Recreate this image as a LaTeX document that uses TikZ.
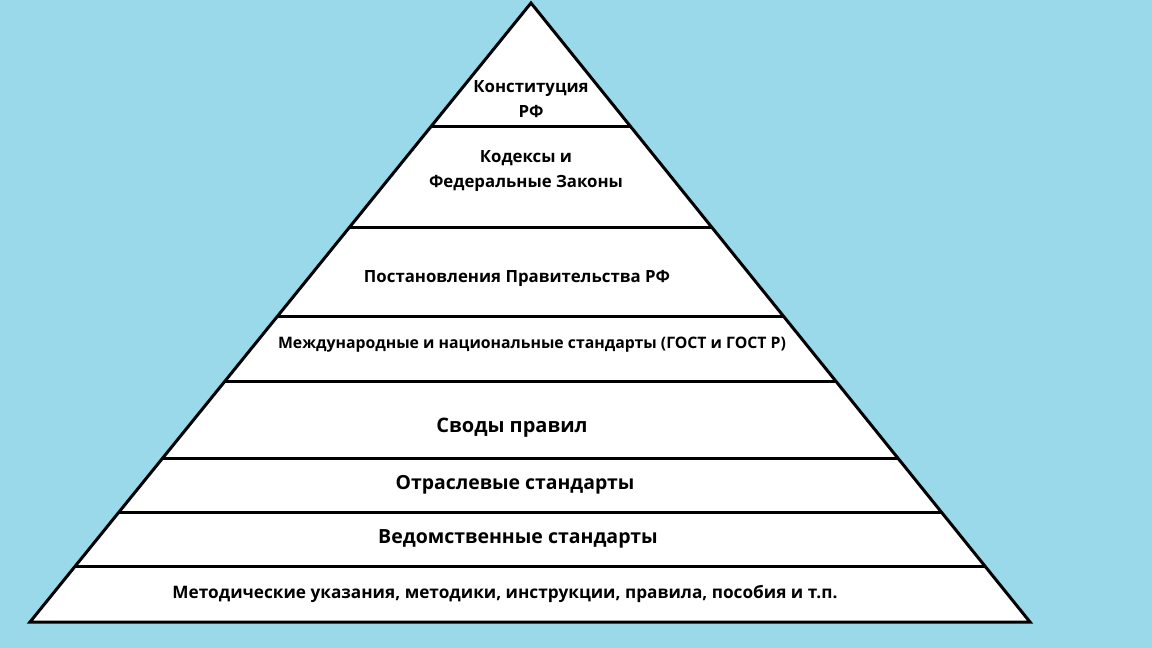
\documentclass[tikz,border=0pt]{standalone}
\usepackage{fontspec}
\setmainfont{Open Sans}
\begin{document}
\begin{tikzpicture}[x=0.5pt,y=-0.5pt,
  lvl/.style={font=\bfseries\fontsize{8.4}{12.5}\selectfont,align=center,text=black},
  edge/.style={line width=1.5pt,black}]
\fill[fill={rgb,255:red,153;green,217;blue,234}] (0,0) rectangle (1152,648);
\useasboundingbox (0,0) rectangle (1152,648);
\coordinate (A) at (531,3);
\coordinate (BL) at (30,622);
\coordinate (BR) at (1030,622);
\fill[white] (A) -- (BL) -- (BR) -- cycle;
\draw[edge,line join=miter] (A) -- (BL) -- (BR) -- cycle;
\foreach \y in {126,227,316,381,458,512,566}{
  \pgfmathsetmacro{\t}{(\y-3)/619}
  \pgfmathsetmacro{\xl}{531-501*\t}
  \pgfmathsetmacro{\xr}{531+499*\t}
  \draw[edge] (\xl,\y) -- (\xr,\y);
}
\node[lvl] (n1) at (531,99) {Конституция\\РФ};
\node[lvl] (n2) at (526,171) {Кодексы и\\Федеральные Законы};
\node[lvl] (n3) at (517,278) {Постановления Правительства РФ};
\node[lvl,font=\bfseries\fontsize{7.9}{10}\selectfont] (n4) at (532,345) {Международные и национальные стандарты (ГОСТ и ГОСТ Р)};
\node[lvl,font=\bfseries\fontsize{10}{12}\selectfont] (n5) at (512,428) {Своды правил};
\node[lvl,font=\bfseries\fontsize{9.7}{11}\selectfont] (n6) at (515,485) {Отраслевые стандарты};
\node[lvl,font=\bfseries\fontsize{9.75}{11}\selectfont] (n7) at (518,539) {Ведомственные стандарты};
\node[lvl,font=\bfseries\fontsize{8.6}{10}\selectfont] (n8) at (505,594) {Методические указания, методики, инструкции, правила, пособия и т.п.};
\end{tikzpicture}
\end{document}
